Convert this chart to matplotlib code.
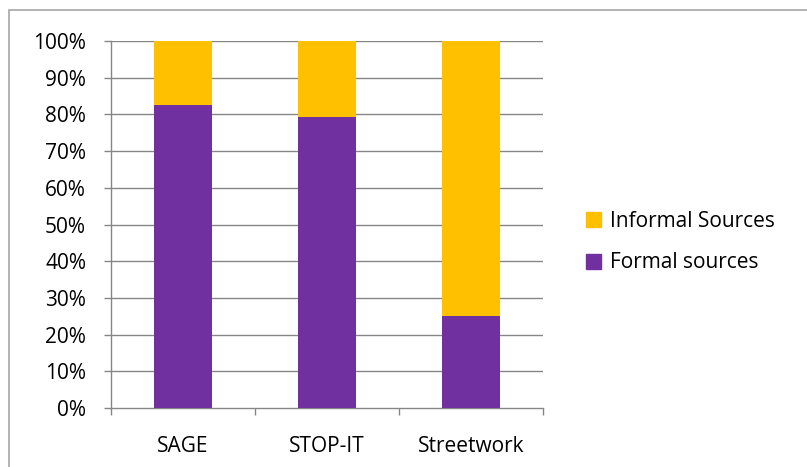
import matplotlib.pyplot as plt
from matplotlib.patches import Rectangle, Patch
from matplotlib.ticker import PercentFormatter, FixedLocator

programs = ["SAGE", "STOP-IT", "Streetwork"]
formal = [82.6, 79.2, 25.0]
informal = [17.4, 20.8, 75.0]

PURPLE = "#7030A0"
GOLD = "#FFC000"
GRID = "#868686"
FS = 15

plt.rcParams['font.family'] = ['Open Sans', 'DejaVu Sans']

fig = plt.figure(figsize=(8.07, 4.67), dpi=100)
ax = fig.add_axes([111 / 807, 1 - 408 / 467, 432 / 807, 367 / 467])

# chart frame, only top and left edges fall inside the image
fig.patches.append(Rectangle((9 / 807, -0.1), 1.2, 1 - 10 / 467 + 0.1,
                             transform=fig.transFigure, fill=False,
                             edgecolor="#A6A6A6", linewidth=1.2))

x = range(len(programs))
ax.bar(x, formal, width=0.4, color=PURPLE, zorder=3)
ax.bar(x, informal, width=0.4, bottom=formal, color=GOLD, zorder=3)

ax.set_xlim(-0.5, 2.5)
ax.set_ylim(0, 100)
ax.yaxis.set_major_locator(FixedLocator(range(0, 101, 10)))
ax.yaxis.set_major_formatter(PercentFormatter(decimals=0))
ax.set_xticks(list(x))
ax.set_xticklabels(programs)
ax.xaxis.set_minor_locator(FixedLocator([-0.5, 0.5, 1.5, 2.5]))

ax.tick_params(axis="x", which="major", length=0, pad=20, labelsize=FS)
ax.tick_params(axis="x", which="minor", length=5, width=1, color=GRID, direction="out")
ax.tick_params(axis="y", length=5, width=1, color=GRID, direction="out", pad=13, labelsize=FS)

for ytick in range(10, 101, 10):
    ax.axhline(ytick, color=GRID, linewidth=1, zorder=1)

for side in ["top", "right"]:
    ax.spines[side].set_visible(False)
for side in ["left", "bottom"]:
    ax.spines[side].set_color(GRID)
    ax.spines[side].set_linewidth(1)

handles = [Patch(color=GOLD, label="Informal Sources"),
           Patch(color=PURPLE, label="Formal sources")]
fig.legend(handles=handles, loc="center left", bbox_to_anchor=(578 / 807, 1 - 242 / 467),
           frameon=False, fontsize=FS, handlelength=0.72, handleheight=0.72,
           handletextpad=0.4, labelspacing=1.0, borderaxespad=0)

fig.savefig("out.png", dpi=100)
